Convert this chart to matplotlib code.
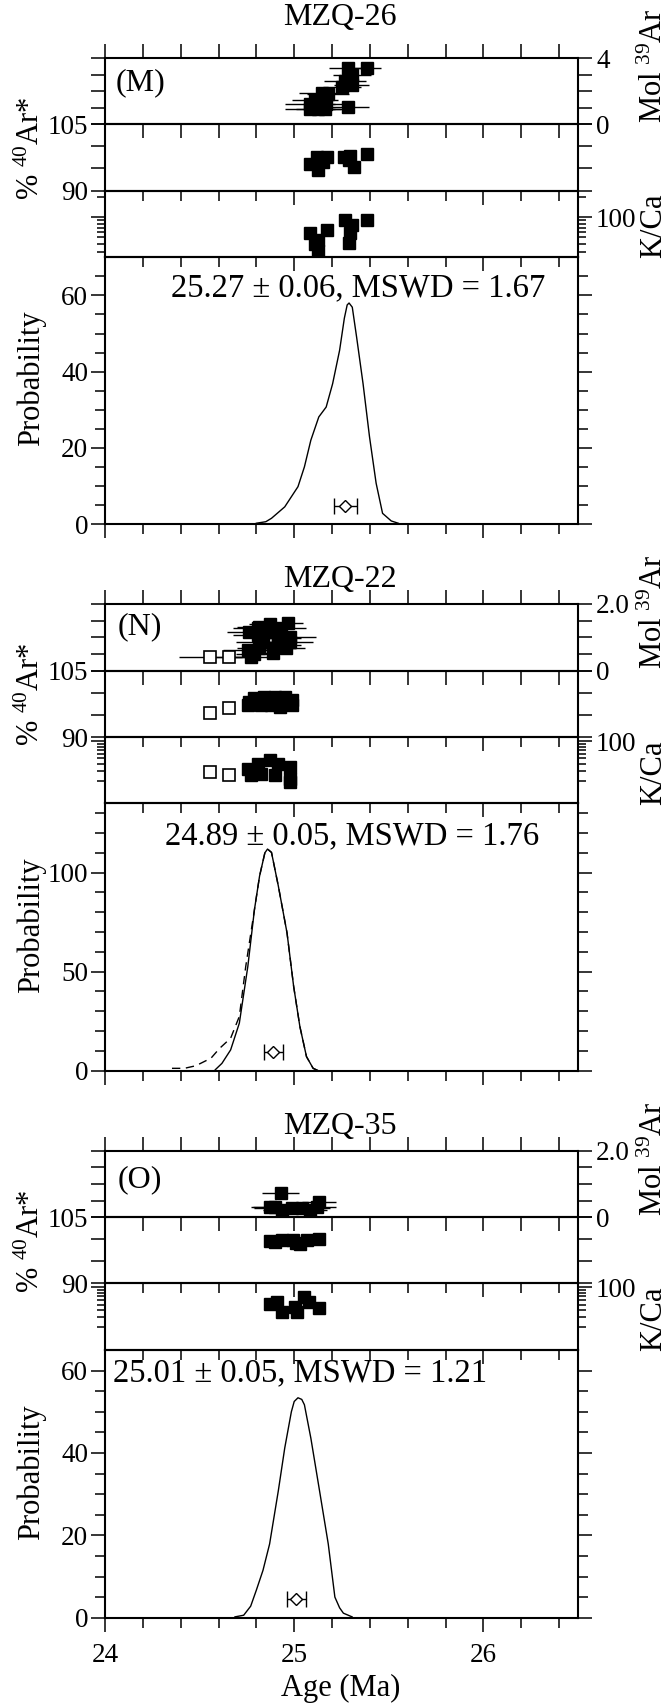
import matplotlib
matplotlib.use('Agg')
import matplotlib.pyplot as plt
from matplotlib.ticker import FixedLocator, NullFormatter, FixedFormatter

plt.rcParams['font.family'] = ['Liberation Serif', 'DejaVu Serif']
plt.rcParams['mathtext.fontset'] = 'custom'
plt.rcParams['mathtext.rm'] = 'Liberation Serif'
plt.rcParams['mathtext.it'] = 'Liberation Serif:italic'
plt.rcParams['mathtext.bf'] = 'Liberation Serif:bold'

# ---------------- data ----------------
x_major = [24, 25, 26]
x_minor = [24.2, 24.4, 24.6, 24.8, 25.2, 25.4, 25.6, 25.8, 26.2, 26.4]
x_labels = ['24', '25', '26']

# MZQ-26
m_title = 'MZQ-26'
m_tag = '(M)'
m_stat = '25.27 ± 0.06, MSWD = 1.67'
m_mol_age = [25.285, 25.383, 25.306, 25.270, 25.303, 25.253, 25.146, 25.178, 25.110, 25.084, 25.167, 25.128, 25.084, 25.283, 25.164]
m_mol_val = [3.37, 3.37, 2.97, 2.59, 2.37, 2.25, 1.85, 1.80, 1.47, 1.24, 1.24, 0.91, 0.91, 1.02, 0.91]
m_mol_err = [0.10, 0.075, 0.10, 0.11, 0.09, 0.10, 0.12, 0.11, 0.12, 0.13, 0.10, 0.12, 0.13, 0.11, 0.10]
m_ar_age = [25.084, 25.12, 25.173, 25.128, 25.262, 25.288, 25.315, 25.387, 25.297, 25.15]
m_ar_val = [95.96, 97.6, 97.6, 94.6, 97.6, 96.9, 95.4, 98.3, 97.8, 96.5]
m_kca_age = [25.084, 25.128, 25.173, 25.125, 25.271, 25.306, 25.288, 25.387, 25.297, 25.11]
m_kca_val = [58, 46, 63.6, 31, 91.8, 77, 41.3, 91.8, 58, 39]
m_prob_age = [24.80, 24.85, 24.88, 24.95, 25.02, 25.054, 25.088, 25.13, 25.169, 25.203, 25.24, 25.265, 25.28, 25.29, 25.307, 25.33, 25.364, 25.398, 25.433, 25.467, 25.513, 25.55]
m_prob_val = [0.2, 0.6, 1.5, 4.5, 9.8, 15, 22, 28.1, 30.7, 36.8, 45.6, 54.0, 57.5, 58, 56.9, 49, 36.8, 22.9, 10.7, 2.8, 0.8, 0.2]
m_mean = 25.27
m_mean_err = 0.06
m_mean_y = 4.8
m_mol_lim = (0, 4)
m_mol_ticks = [0, 4]
m_mol_ticklabels = ['0', '4']
m_mol_minor = [1, 2, 3]
m_kca_lim = (25, 250)
m_kca_minor = [30, 40, 50, 60, 70, 80, 90, 200]
m_prob_lim = (0, 70)
m_prob_ticks = [0, 20, 40, 60]
m_prob_minor = [5, 10, 15, 25, 30, 35, 45, 50, 55, 65]

# MZQ-22
n_title = 'MZQ-22'
n_tag = '(N)'
n_stat = '24.89 ± 0.05, MSWD = 1.76'
n_mol_age = [24.79, 24.754, 24.816, 24.887, 24.887, 24.834, 24.807, 24.87, 24.807, 24.87, 24.816, 24.932, 24.977, 24.977, 24.914, 24.968, 24.959, 24.772, 24.914, 24.763]
n_mol_val = [0.49, 0.62, 0.67, 0.52, 0.67, 0.87, 1.07, 1.17, 1.27, 1.39, 1.32, 1.27, 0.87, 1.02, 0.97, 1.42, 0.67, 0.42, 0.77, 1.17]
n_mol_err = [0.10, 0.13, 0.12, 0.10, 0.12, 0.14, 0.13, 0.12, 0.13, 0.11, 0.12, 0.13, 0.12, 0.14, 0.12, 0.08, 0.10, 0.10, 0.12, 0.12]
n_mol_open_age = [24.557, 24.656]
n_mol_open_val = [0.40, 0.40]
n_mol_open_err = [0.165, 0.10]
n_ar_age = [24.754, 24.79, 24.843, 24.897, 24.95, 24.986, 24.986, 24.879, 24.825, 24.763, 24.923]
n_ar_val = [97.3, 98.8, 99.1, 99.1, 99.1, 98.4, 97.3, 97.3, 97.3, 98.0, 96.9]
n_ar_open_age = [24.557, 24.656]
n_ar_open_val = [95.4, 96.7]
n_kca_age = [24.754, 24.807, 24.87, 24.914, 24.897, 24.977, 24.977, 24.98, 24.825, 24.772]
n_kca_val = [32.9, 40.2, 45.9, 40.2, 25.3, 35, 21.9, 19.2, 26.9, 25.3]
n_kca_open_age = [24.557, 24.656]
n_kca_open_val = [28.7, 25.8]
n_prob_age = [24.583, 24.618, 24.664, 24.71, 24.755, 24.79, 24.817, 24.845, 24.859, 24.88, 24.916, 24.962, 24.997, 25.03, 25.065, 25.1, 25.123]
n_prob_val = [0.5, 3.7, 10.5, 24, 52.7, 81.4, 98.3, 110, 111.9, 110.2, 93.3, 69.6, 42.6, 22.3, 7.1, 1.2, 0.2]
n_prob2_age = [24.354, 24.42, 24.48, 24.56, 24.606, 24.664, 24.71, 24.744, 24.79, 24.817, 24.845, 24.859, 24.88, 24.916, 24.962, 24.997, 25.03, 25.065, 25.1, 25.123]
n_prob2_val = [1.2, 1.2, 2.5, 6.3, 11.3, 16.4, 27.4, 52.7, 81.4, 98.3, 110, 111.9, 110.2, 93.3, 69.6, 42.6, 22.3, 7.1, 1.2, 0.2]
n_mean = 24.89
n_mean_err = 0.05
n_mean_y = 9.3
n_mol_lim = (0, 2.0)
n_mol_ticks = [0, 2.0]
n_mol_ticklabels = ['0', '2.0']
n_mol_minor = [0.5, 1.0, 1.5]
n_kca_lim = (8, 118)
n_kca_minor = [20, 30, 40, 50, 60, 70, 80, 90]
n_prob_lim = (0, 135)
n_prob_ticks = [0, 50, 100]
n_prob_minor = [10, 20, 30, 40, 60, 70, 80, 90, 110, 120, 130]

# MZQ-35
o_title = 'MZQ-35'
o_tag = '(O)'
o_stat = '25.01 ± 0.05, MSWD = 1.21'
o_mol_age = [24.928, 25.13, 24.872, 24.934, 24.987, 25.04, 25.085, 25.12, 24.90]
o_mol_val = [0.72, 0.47, 0.32, 0.22, 0.27, 0.27, 0.22, 0.32, 0.30]
o_mol_err = [0.096, 0.09, 0.10, 0.10, 0.20, 0.10, 0.09, 0.10, 0.12]
o_ar_age = [24.872, 24.934, 24.996, 25.03, 25.066, 25.13, 25.01, 24.90]
o_ar_val = [99.6, 99.8, 99.8, 98.9, 99.8, 100.1, 99.2, 99.5]
o_kca_age = [24.872, 24.934, 25.005, 25.05, 25.076, 25.13, 24.908, 25.014]
o_kca_val = [51.8, 37, 45, 67, 55, 43, 55, 37]
o_prob_age = [24.687, 24.733, 24.77, 24.80, 24.835, 24.87, 24.916, 24.95, 24.985, 25.0, 25.02, 25.04, 25.054, 25.088, 25.134, 25.18, 25.215, 25.24, 25.26, 25.306]
o_prob_val = [0.2, 0.6, 2.8, 6.7, 11.5, 17.9, 30.8, 41.2, 50, 52.5, 53.4, 53.0, 51.7, 43.6, 30.8, 17.9, 5, 2.4, 1.1, 0.2]
o_mean = 25.01
o_mean_err = 0.05
o_mean_y = 4.5
o_mol_lim = (0, 2.0)
o_mol_ticks = [0, 2.0]
o_mol_ticklabels = ['0', '2.0']
o_mol_minor = [0.5, 1.0, 1.5]
o_kca_lim = (8, 118)
o_kca_minor = [20, 30, 40, 50, 60, 70, 80, 90]
o_prob_lim = (0, 65)
o_prob_ticks = [0, 20, 40, 60]
o_prob_minor = [5, 10, 15, 25, 30, 35, 45, 50, 55]

ar_lim = (90, 105)
ar_ticks = [90, 105]
ar_minor = [95, 100]

# ---------------- layout (pixels) ----------------
W, H = 672, 1705
AX_L, AX_R = 105, 578
FS_TICK = 19.5
FS_LAB = 22

fig = plt.figure(figsize=(W / 100, H / 100), dpi=100)


def add_ax(top, bottom):
    ax = fig.add_axes([AX_L / W, 1 - bottom / H, (AX_R - AX_L) / W, (bottom - top) / H])
    ax.set_facecolor('none')
    for s in ax.spines.values():
        s.set_linewidth(1.5)
    ax.set_xlim(24, 26.5)
    ax.xaxis.set_major_locator(FixedLocator(x_major))
    ax.xaxis.set_minor_locator(FixedLocator(x_minor))
    ax.tick_params(axis='both', which='both', direction='out', width=1.1, labelsize=FS_TICK)
    ax.tick_params(axis='both', which='major', length=10)
    ax.tick_params(axis='both', which='minor', length=7)
    ax.tick_params(axis='y', which='both', left=True, right=True, pad=2)
    return ax


def ftx(px):
    return px / W


def fty(py):
    return 1 - py / H


def sample(tops, title, title_y, tag, tag_y, stat, stat_xy,
           mol, ar, kca, prob, mean, mol_axis, kca_axis, prob_axis,
           mol_open=None, ar_open=None, kca_open=None, prob2=None, last=False):
    t_mol, t_ar, t_kca, t_prob, b_prob = tops
    ax1 = add_ax(t_mol, t_ar)
    ax2 = add_ax(t_ar, t_kca)
    ax3 = add_ax(t_kca, t_prob)
    ax4 = add_ax(t_prob, b_prob)

    # Mol 39Ar panel
    ax1.errorbar(mol[0], mol[1], xerr=mol[2], fmt='none', ecolor='k', elinewidth=1.0, capsize=0, zorder=2)
    ax1.plot(mol[0], mol[1], 's', color='k', ms=8.8, zorder=3)
    if mol_open is not None:
        ax1.errorbar(mol_open[0], mol_open[1], xerr=mol_open[2], fmt='none', ecolor='k', elinewidth=1.0, capsize=0, zorder=2)
        ax1.plot(mol_open[0], mol_open[1], 's', mfc='white', mec='k', mew=1.2, ms=8.4, zorder=3)
    ax1.set_ylim(*mol_axis[0])
    ax1.yaxis.set_major_locator(FixedLocator(mol_axis[1]))
    ax1.yaxis.set_major_formatter(FixedFormatter(mol_axis[2]))
    ax1.yaxis.set_minor_locator(FixedLocator(mol_axis[3]))
    ax1.tick_params(axis='y', which='minor', length=10)
    ax1.tick_params(axis='y', labelleft=False, labelright=True, pad=3)
    ax1.tick_params(axis='x', which='both', top=True, bottom=True, labelbottom=False)
    ax1.tick_params(axis='x', which='minor', length=10)

    # % 40Ar* panel
    ax2.plot(ar[0], ar[1], 's', color='k', ms=8.8)
    if ar_open is not None:
        ax2.plot(ar_open[0], ar_open[1], 's', mfc='white', mec='k', mew=1.2, ms=8.4)
    ax2.set_ylim(*ar_lim)
    ax2.yaxis.set_major_locator(FixedLocator(ar_ticks))
    ax2.yaxis.set_minor_locator(FixedLocator(ar_minor))
    ax2.tick_params(axis='y', which='minor', length=10)
    ax2.tick_params(axis='y', labelleft=True, labelright=False)
    ax2.tick_params(axis='x', which='both', top=False, bottom=True, labelbottom=False)

    # K/Ca panel (log)
    ax3.set_yscale('log')
    ax3.plot(kca[0], kca[1], 's', color='k', ms=8.8)
    if kca_open is not None:
        ax3.plot(kca_open[0], kca_open[1], 's', mfc='white', mec='k', mew=1.2, ms=8.4)
    ax3.set_ylim(*kca_axis[0])
    ax3.yaxis.set_major_locator(FixedLocator([100]))
    ax3.yaxis.set_major_formatter(FixedFormatter(['100']))
    ax3.yaxis.set_minor_locator(FixedLocator(kca_axis[1]))
    ax3.yaxis.set_minor_formatter(NullFormatter())
    ax3.tick_params(axis='y', which='minor', length=6)
    ax3.tick_params(axis='y', labelleft=False, labelright=True, pad=3)
    ax3.tick_params(axis='x', which='both', top=False, bottom=True, labelbottom=False)

    # Probability panel
    ax4.plot(prob[0], prob[1], '-', color='k', lw=1.0)
    if prob2 is not None:
        ax4.plot(prob2[0], prob2[1], '--', color='k', lw=1.0, dashes=(6, 4))
    ax4.errorbar([mean[0]], [mean[2]], xerr=[mean[1]], fmt='D', mfc='white', mec='k', mew=1.0,
                 ms=6, ecolor='k', elinewidth=1.0, capsize=6, capthick=1.0)
    ax4.set_ylim(*prob_axis[0])
    ax4.yaxis.set_major_locator(FixedLocator(prob_axis[1]))
    ax4.yaxis.set_minor_locator(FixedLocator(prob_axis[2]))
    ax4.tick_params(axis='y', labelleft=True, labelright=False)
    ax4.tick_params(axis='x', which='both', top=False, bottom=True, labelbottom=last, pad=8)
    if last:
        ax4.xaxis.set_major_formatter(FixedFormatter(x_labels))
    ax4.text(stat_xy[0], stat_xy[1], stat, transform=ax4.transAxes, ha='center', va='center', fontsize=23.5)

    # texts
    fig.text(ftx(340), fty(title_y), title, ha='center', va='baseline', fontsize=23)
    ax1.text(0.074, tag_y, tag, transform=ax1.transAxes, ha='center', va='center', fontsize=23)
    fig.text(ftx(31), fty(t_ar + 24), '% $^{40}$Ar*', rotation=90, ha='center', va='center', fontsize=FS_LAB)
    fig.text(ftx(31), fty((t_prob + b_prob) / 2 - 12), 'Probability', rotation=90, ha='center', va='center', fontsize=FS_LAB)
    fig.text(ftx(654), fty(t_mol + 8), 'Mol $^{39}$Ar', rotation=90, ha='center', va='center', fontsize=FS_LAB)
    fig.text(ftx(654), fty(t_kca + 35), 'K/Ca', rotation=90, ha='center', va='center', fontsize=FS_LAB)
    return ax4


sample((58, 124, 190.7, 257.3, 524), m_title, 25, m_tag, 0.62, m_stat, (0.536, 0.885),
       (m_mol_age, m_mol_val, m_mol_err), (m_ar_age, m_ar_val), (m_kca_age, m_kca_val),
       (m_prob_age, m_prob_val), (m_mean, m_mean_err, m_mean_y),
       (m_mol_lim, m_mol_ticks, m_mol_ticklabels, m_mol_minor), (m_kca_lim, m_kca_minor),
       (m_prob_lim, m_prob_ticks, m_prob_minor))

sample((604, 670.7, 737.3, 803.3, 1070.7), n_title, 587, n_tag, 0.655, n_stat, (0.522, 0.878),
       (n_mol_age, n_mol_val, n_mol_err), (n_ar_age, n_ar_val), (n_kca_age, n_kca_val),
       (n_prob_age, n_prob_val), (n_mean, n_mean_err, n_mean_y),
       (n_mol_lim, n_mol_ticks, n_mol_ticklabels, n_mol_minor), (n_kca_lim, n_kca_minor),
       (n_prob_lim, n_prob_ticks, n_prob_minor),
       mol_open=(n_mol_open_age, n_mol_open_val, n_mol_open_err),
       ar_open=(n_ar_open_age, n_ar_open_val), kca_open=(n_kca_open_age, n_kca_open_val),
       prob2=(n_prob2_age, n_prob2_val))

sample((1150.7, 1217.3, 1283.3, 1350, 1617.7), o_title, 1134, o_tag, 0.57, o_stat, (0.412, 0.915),
       (o_mol_age, o_mol_val, o_mol_err), (o_ar_age, o_ar_val), (o_kca_age, o_kca_val),
       (o_prob_age, o_prob_val), (o_mean, o_mean_err, o_mean_y),
       (o_mol_lim, o_mol_ticks, o_mol_ticklabels, o_mol_minor), (o_kca_lim, o_kca_minor),
       (o_prob_lim, o_prob_ticks, o_prob_minor), last=True)

fig.text(ftx(341), fty(1688), 'Age (Ma)', ha='center', va='center', fontsize=FS_LAB)

fig.savefig('out.png', dpi=100)
